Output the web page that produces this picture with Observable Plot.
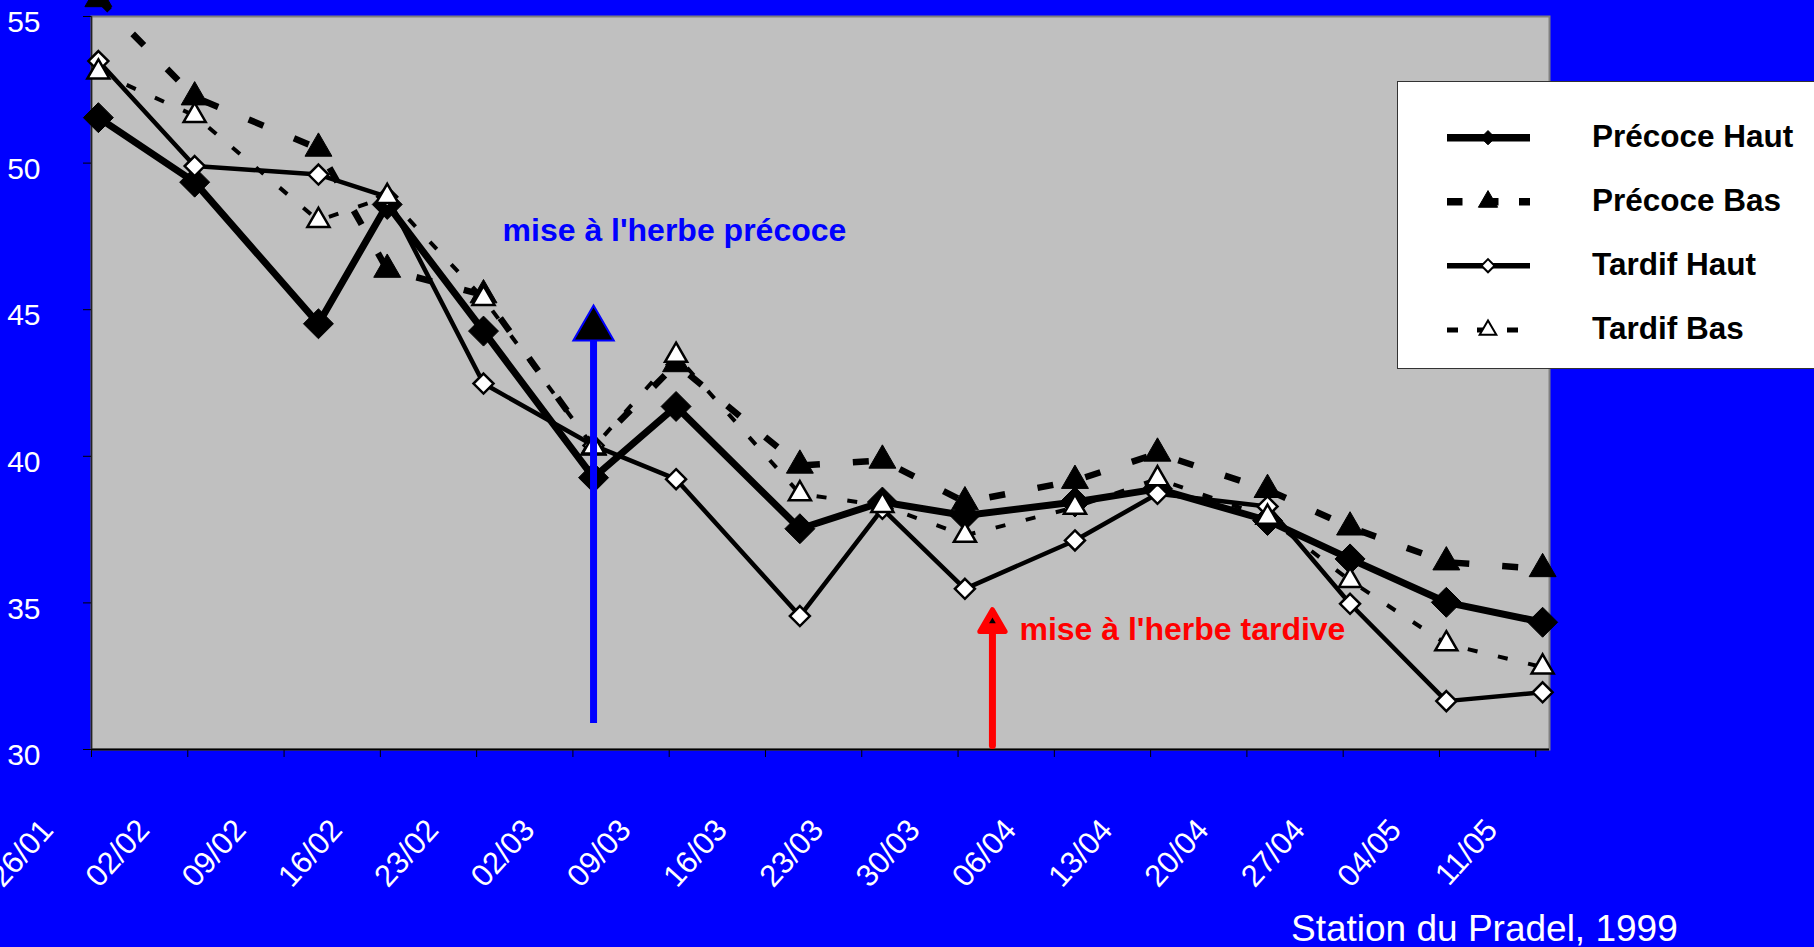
<!DOCTYPE html>
<html>
<head>
<meta charset="utf-8">
<script src="https://cdn.jsdelivr.net/npm/d3@7"></script>
<script src="https://cdn.jsdelivr.net/npm/@observablehq/plot@0.6"></script>
<style>
  html, body { margin: 0; padding: 0; background: #0000FF; overflow: hidden; }
  body { width: 1814px; height: 947px; position: relative; font-family: "Liberation Sans", Arial, sans-serif; }
  #chart { position: absolute; left: 0; top: 0; }
  #legend { position: absolute; left: 1397px; top: 81px; width: 460px; height: 288px; background: #fff; border: 1.5px solid #333; box-sizing: border-box; }
  #caption { position: absolute; left: 1291px; top: 910px; font-size: 37px; line-height: 37px; color: #fff; white-space: nowrap; }
</style>
</head>
<body>
<div id="chart"></div>
<div id="legend"></div>
<div id="caption">Station du Pradel, 1999</div>
<script>
// ---- Data ----
const dates = ["1999-01-26","1999-02-02","1999-02-11","1999-02-16","1999-02-23","1999-03-03","1999-03-09","1999-03-18",
               "1999-03-24","1999-03-30","1999-04-07","1999-04-13","1999-04-21","1999-04-27","1999-05-04","1999-05-11"];
const precoceHaut = [51.55, 49.35, 44.52, 48.59, 44.27, 39.27, 41.70, 37.53, 38.44, 37.98, 38.44, 38.89, 37.81, 36.50, 35.02, 34.34];
const precoceBas  = [55.60, 52.25, 50.50, 46.37, 45.50, 40.30, 43.15, 39.69, 39.86, 38.44, 39.17, 40.10, 38.86, 37.58, 36.39, 36.16];
const tardifHaut  = [53.48, 49.90, 49.61, 48.85, 42.48, 40.37, 39.22, 34.55, 38.21, 35.48, 37.13, 38.72, 38.29, 34.97, 31.65, 31.95];
const tardifBas   = [53.10, 51.62, 48.04, 48.86, 45.38, 40.31, 43.44, 38.72, 38.32, 37.30, 38.26, 39.23, 37.92, 35.76, 33.60, 32.81];
const seriesNames = ["Précoce Haut", "Précoce Bas", "Tardif Haut", "Tardif Bas"];
const tickLabels = ["26/01","02/02","09/02","16/02","23/02","02/03","09/03","16/03","23/03","30/03","06/04","13/04","20/04","27/04","04/05","11/05"];
const yTicks = [30, 35, 40, 45, 50, 55];
// annotations: arrows (date, from, to) and labels
const arrowDates = ["1999-03-03", "1999-04-01"];
const arrowFrom = [30.9, 30.14];
const arrowTo = [43.95, 33.96];
const arrowHead = [44.35, 34.27];
const annotTexts = ["mise à l'herbe précoce", "mise à l'herbe tardive"];
const annotValues = [47.33, 33.72];

// ---- Build tables ----
const HALF_DAY = 12 * 3600 * 1000;
const toDate = (s) => new Date(Date.parse(s + "T00:00:00Z") + HALF_DAY);
const values = [precoceHaut, precoceBas, tardifHaut, tardifBas];
const table = values.flatMap((arr, k) => arr.map((v, i) => ({series: seriesNames[k], date: toDate(dates[i]), value: v})));
const tickDates = tickLabels.map(l => { const [d, m] = l.split("/"); return new Date(Date.UTC(1999, +m - 1, +d)); });
const arrows = arrowDates.map((d, i) => ({date: toDate(d), y1: arrowFrom[i], y2: arrowTo[i], head: arrowHead[i]}));
const annots = annotTexts.map((t, i) => ({text: t, date: toDate(arrowDates[i]), value: annotValues[i]}));

const styles = {
  "Précoce Haut": {sw: 7, dash: null, symbol: "diamond2", r: 13.5, fill: "black", stroke: "black", msw: 1},
  "Précoce Bas":  {sw: 6.5, dash: "16,33", symbol: "triangle", r: 10, fill: "black", stroke: "black", msw: 1},
  "Tardif Haut":  {sw: 4.5, dash: null, symbol: "diamond2", r: 9, fill: "white", stroke: "black", msw: 2.5},
  "Tardif Bas":   {sw: 4, dash: "10,21", symbol: "triangle", r: 8.2, fill: "white", stroke: "black", msw: 2.5}
};

const seriesMarks = seriesNames.flatMap(name => {
  const s = styles[name];
  const rows = table.filter(d => d.series === name);
  return [
    Plot.line(rows, {x: "date", y: "value", stroke: "black", strokeWidth: s.sw, strokeDasharray: s.dash, strokeLinecap: "butt", strokeLinejoin: "round"}),
    Plot.dot(rows, {x: "date", y: "value", symbol: () => s.symbol, r: s.r, fill: s.fill, stroke: s.stroke, strokeWidth: s.msw})
  ];
});

const font = "Liberation Sans, Arial, sans-serif";

const chart = Plot.plot({
  width: 1814,
  height: 947,
  marginLeft: 91,
  marginRight: 265,
  marginTop: 16,
  marginBottom: 198,
  style: {background: "transparent", overflow: "visible", fontFamily: font},
  x: {type: "utc", domain: [new Date(Date.UTC(1999, 0, 26)), new Date(Date.UTC(1999, 4, 12))]},
  y: {domain: [30, 55]},
  symbol: {type: "identity"},
  marks: [
    Plot.frame({fill: "#C0C0C0", stroke: "#808080", strokeWidth: 2}),
    Plot.ruleY([30], {stroke: "black", strokeWidth: 2}),
    Plot.ruleX([new Date(Date.UTC(1999, 0, 26))], {stroke: "#222", strokeWidth: 1.5}),
    Plot.axisY({ticks: yTicks, tickSize: 8, fill: "none", stroke: "black", label: null}),
    Plot.axisY({ticks: yTicks, tickSize: 0, tickPadding: 51, fill: "white", stroke: "none", fontSize: 30, dy: 6, label: null, tickFormat: d => String(d)}),
    Plot.axisX({ticks: tickDates, tickSize: 8, fill: "none", stroke: "black", label: null}),
    Plot.text(tickDates, {x: d => d, text: (d, i) => tickLabels[i], frameAnchor: "bottom", rotate: -48, textAnchor: "end", lineAnchor: "middle", dx: -44, dy: 75, fill: "white", fontSize: 31}),
    ...seriesMarks,
    // blue arrow
    Plot.link([arrows[0]], {x1: "date", x2: "date", y1: "y1", y2: "y2", stroke: "#0000FF", strokeWidth: 7, strokeLinecap: "butt"}),
    Plot.dot([arrows[0]], {x: "date", y: "head", symbol: () => "triangle", r: 15, fill: "black", stroke: "#0000FF", strokeWidth: 2}),
    // red arrow
    Plot.link([arrows[1]], {x1: "date", x2: "date", y1: "y1", y2: "y2", stroke: "#FF0000", strokeWidth: 7, strokeLinecap: "round"}),
    Plot.dot([arrows[1]], {x: "date", y: "head", symbol: () => "triangle", r: 9.4, fill: "#FF0000", stroke: "#FF0000", strokeWidth: 5, strokeLinejoin: "round"}),
    Plot.dot([arrows[1]], {x: "date", y: "head", symbol: () => "triangle", r: 2.5, fill: "black", dy: -3}),
    // labels
    Plot.text([annots[0]], {x: "date", y: "value", text: "text", textAnchor: "start", lineAnchor: "bottom", dx: -91, fill: "#0000FF", fontSize: 32, fontWeight: "bold"}),
    Plot.text([annots[1]], {x: "date", y: "value", text: "text", textAnchor: "start", lineAnchor: "bottom", dx: 27, fill: "#FF0000", fontSize: 32, fontWeight: "bold"})
  ]
});
document.getElementById("chart").appendChild(chart);

// ---- Legend ----
const lg = d3.select("#legend").append("svg").attr("width", 460).attr("height", 286).style("display", "block");
const rowY = [55.7, 119.7, 183.7, 248];
const legendStyle = {
  "Précoce Haut": {sw: 7.5, dash: null, sym: d3.symbolDiamond2, size: 130, fill: "black", msw: 1},
  "Précoce Bas":  {sw: 7.5, dash: "15.5,20.5", sym: d3.symbolTriangle, size: 160, fill: "black", msw: 1},
  "Tardif Haut":  {sw: 5.5, dash: null, sym: d3.symbolDiamond2, size: 110, fill: "white", msw: 2},
  "Tardif Bas":   {sw: 5, dash: "11,19", sym: d3.symbolTriangle, size: 120, fill: "white", msw: 2}
};
seriesNames.forEach((name, i) => {
  const s = legendStyle[name];
  const g = lg.append("g").attr("transform", `translate(0,${rowY[i]})`);
  g.append("line").attr("x1", 49).attr("x2", 132).attr("y1", 0).attr("y2", 0)
    .attr("stroke", "black").attr("stroke-width", s.sw).attr("stroke-dasharray", s.dash);
  g.append("path").attr("d", d3.symbol(s.sym, s.size)()).attr("transform", "translate(90,0)")
    .attr("fill", s.fill).attr("stroke", "black").attr("stroke-width", s.msw);
  g.append("text").attr("x", 194).attr("y", 0).attr("dy", "0.28em").text(name)
    .attr("font-family", font).attr("font-weight", "bold").attr("font-size", 31.5).attr("fill", "black");
});
</script>
</body>
</html>
